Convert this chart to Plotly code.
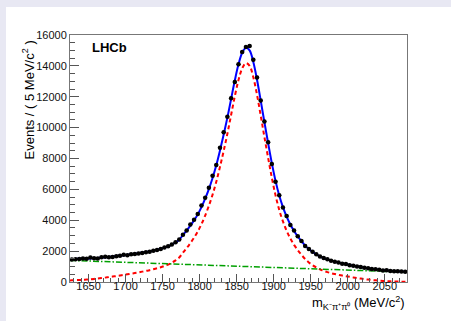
import plotly.graph_objects as go

# ---- data ----
bin_mass = [1627.5 + 5 * i for i in range(91)]
events = [1450, 1470, 1490, 1520, 1500, 1580, 1540, 1520, 1600, 1630,
          1600, 1620, 1660, 1700, 1760, 1740, 1790, 1820, 1850, 1880,
          1930, 1960, 2030, 2080, 2140, 2240, 2320, 2430, 2570, 2760,
          3060, 3340, 3720, 4040, 4400, 4960, 5460, 6100, 6880, 7580,
          8700, 9700, 10700, 11900, 12950, 14100, 14900, 15230, 15280, 14400,
          13250, 11750, 10400, 9050, 7650, 6500, 5620, 4820, 4270, 3700,
          3330, 2960, 2660, 2330, 2130, 1960, 1800, 1650, 1560, 1470,
          1370, 1310, 1270, 1190, 1160, 1090, 1060, 1000, 970, 920,
          890, 840, 820, 800, 750, 760, 720, 700, 700, 680,
          660]
events_err = [round(v ** 0.5) for v in events]

curve_mass = [1625] + bin_mass + [2080]
total_fit = [1490,
             1492, 1497, 1503, 1510, 1518, 1530, 1545, 1562, 1582, 1604,
             1628, 1653, 1680, 1708, 1738, 1768, 1800, 1834, 1870, 1908,
             1948, 1985, 2035, 2090, 2150, 2225, 2310, 2420, 2560, 2740,
             3040, 3330, 3650, 3990, 4380, 4850, 5400, 6020, 6740, 7560,
             8520, 9550, 10650, 11850, 13050, 14100, 14850, 15180, 15000, 14250,
             13100, 11750, 10350, 9000, 7700, 6550, 5600, 4850, 4230, 3720,
             3300, 2950, 2640, 2360, 2130, 1940, 1790, 1660, 1550, 1460,
             1385, 1320, 1260, 1205, 1155, 1105, 1055, 1010, 965, 925,
             885, 850, 818, 790, 765, 742, 722, 705, 690, 677,
             665,
             660]
signal_fit = [100,
              106, 118, 130, 144, 160, 178, 199, 225, 253, 283,
              316, 349, 384, 421, 459, 497, 538, 580, 624, 671,
              719, 765, 823, 886, 955, 1038, 1131, 1250, 1398, 1586,
              1895, 2193, 2521, 2870, 3268, 3746, 4305, 4933, 5661, 6490,
              7458, 8496, 9605, 10813, 12021, 13080, 13838, 14176, 14005, 13263,
              12121, 10780, 9388, 8046, 6755, 5613, 4671, 3930, 3318, 2816,
              2405, 2063, 1761, 1490, 1268, 1086, 945, 823, 721, 640,
              573, 516, 465, 418, 376, 335, 293, 256, 220, 188,
              156, 130, 106, 86, 70, 55, 43, 35, 28, 23,
              20,
              18]
bkg_mass = [1625, 1700, 1800, 1900, 2000, 2080]
bkg_fit = [1400, 1275, 1108, 941, 775, 640]

FONT = "Liberation Sans, Arial, sans-serif"

fig = go.Figure()
fig.add_trace(go.Scatter(x=curve_mass, y=total_fit, mode="lines",
                         line=dict(color="#0000ff", width=2, shape="spline"),
                         hoverinfo="skip", showlegend=False))
fig.add_trace(go.Scatter(x=curve_mass, y=signal_fit, mode="lines",
                         line=dict(color="#ff0000", width=2, dash="4px,3px", shape="spline"),
                         hoverinfo="skip", showlegend=False))
fig.add_trace(go.Scatter(x=bkg_mass, y=bkg_fit, mode="lines",
                         line=dict(color="#00a000", width=1.5, dash="6px,2px,1.5px,2px"),
                         hoverinfo="skip", showlegend=False))
fig.add_trace(go.Scatter(x=bin_mass, y=events, mode="markers",
                         marker=dict(color="black", size=4.5),
                         error_y=dict(type="data", array=events_err, color="black",
                                      thickness=1, width=0),
                         error_x=dict(type="constant", value=2.5, color="black",
                                      thickness=1, width=0),
                         showlegend=False))

axis_common = dict(showline=True, linecolor="#777777", linewidth=1, mirror=True,
                   ticks="inside", tickcolor="#555555", showgrid=False, zeroline=False,
                   automargin=False,
                   tickfont=dict(family=FONT, size=11, color="#111111"))

fig.update_xaxes(range=[1625, 2080], dtick=50, tick0=1650, ticklen=8,
                 ticklabelstandoff=-6,
                 minor=dict(dtick=10, ticks="inside", ticklen=4, tickcolor="#555555"),
                 **axis_common)
fig.update_yaxes(range=[0, 16000], dtick=2000, ticklen=9, tickformat="d",
                 minor=dict(dtick=500, ticks="inside", ticklen=5, tickcolor="#555555"),
                 **axis_common)

# figure placed at page (6, 7); plot area in figure pixels:
# left 64, top 28, right 401, bottom 275 (width 337, height 247)
fig.add_annotation(text="<b>LHCb</b>", xref="paper", yref="paper",
                   x=(84 - 64) / 337, y=(275 - 40) / 247, xanchor="left", yanchor="middle",
                   showarrow=False, font=dict(family=FONT, size=13, color="black"))
fig.add_annotation(text="Events / ( 5 MeV/c<sup>2</sup> )", xref="paper", yref="paper",
                   x=(22 - 64) / 337, y=(275 - 32) / 247, xanchor="center", yanchor="top",
                   textangle=-90, showarrow=False,
                   font=dict(family=FONT, size=13, color="black"))
fig.add_annotation(text="m<sub>K⁻π⁺π⁰</sub> (MeV/c<sup>2</sup>)", xref="paper", yref="paper",
                   x=1.0, y=(275 - 296) / 247, xanchor="right", yanchor="middle",
                   showarrow=False, font=dict(family=FONT, size=13, color="black"))

fig.update_layout(width=465, height=330,
                  margin=dict(l=64, r=64, t=28, b=55, pad=0),
                  paper_bgcolor="white", plot_bgcolor="white",
                  showlegend=False)

fig.write_html(
    "out.html",
    post_script="document.body.style.margin='7px 0 0 6px';"
                "document.body.style.backgroundColor='#e8e8f3';"
                "document.body.style.overflow='hidden';",
)
